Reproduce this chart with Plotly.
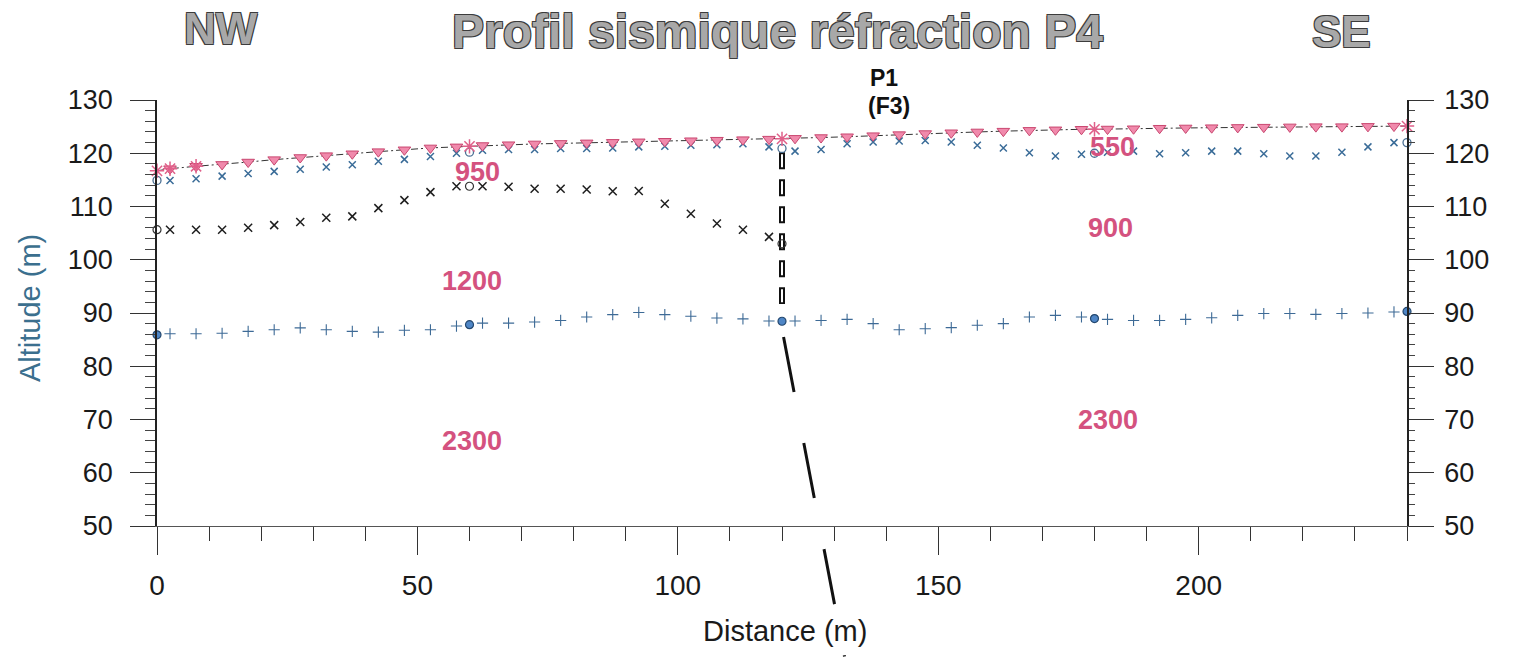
import plotly.graph_objects as go

# ---------------------------------------------------------------------------
# Survey geometry and picked refractor elevations (m)
# ---------------------------------------------------------------------------
GEO_X = [2.5, 7.5, 12.5, 17.5, 22.5, 27.5, 32.5, 37.5, 42.5, 47.5, 52.5, 57.5,
         62.5, 67.5, 72.5, 77.5, 82.5, 87.5, 92.5, 97.5, 102.5, 107.5, 112.5, 117.5,
         122.5, 127.5, 132.5, 137.5, 142.5, 147.5, 152.5, 157.5, 162.5, 167.5, 172.5, 177.5,
         182.5, 187.5, 192.5, 197.5, 202.5, 207.5, 212.5, 217.5, 222.5, 227.5, 232.5, 237.5]

# ground elevation at each geophone
TOPO_Z = [117.1, 117.55, 117.9, 118.35, 118.8, 119.2, 119.55, 119.9, 120.3, 120.65, 121.0, 121.2,
          121.45, 121.6, 121.75, 121.85, 121.95, 122.05, 122.15, 122.25, 122.35, 122.45, 122.55, 122.65,
          122.8, 122.95, 123.1, 123.3, 123.5, 123.7, 123.85, 124.0, 124.15, 124.3, 124.4, 124.5,
          124.55, 124.6, 124.7, 124.75, 124.8, 124.85, 124.9, 124.95, 125.0, 125.0, 125.05, 125.1]

# shot points and their ground elevation
SHOT_X = [0, 2.5, 7.5, 60, 120, 180, 240]
SHOT_Z = [116.7, 117.1, 117.55, 121.3, 122.7, 124.5, 125.1]

# base of the 550 m/s layer
REF1_Z = [114.9, 115.2, 115.7, 116.2, 116.6, 117.0, 117.4, 117.85, 118.5, 118.85, 119.4, 120.0,
          120.55, 120.7, 120.7, 120.9, 120.9, 121.0, 121.2, 121.3, 121.5, 121.6, 121.8, 121.2,
          120.4, 120.7, 121.8, 122.1, 122.3, 122.4, 122.1, 121.5, 121.0, 120.1, 119.5, 119.8,
          120.2, 120.4, 119.9, 120.1, 120.4, 120.4, 119.9, 119.5, 119.5, 120.2, 121.2, 122.0]
REF1_SHOT_X = [0, 60, 120, 180, 240]
REF1_SHOT_Z = [114.9, 120.2, 120.9, 120.0, 122.0]

# base of the 950 m/s layer (NW block only)
REF2_X = [2.5, 7.5, 12.5, 17.5, 22.5, 27.5, 32.5, 37.5, 42.5, 47.5, 52.5, 57.5,
          62.5, 67.5, 72.5, 77.5, 82.5, 87.5, 92.5, 97.5, 102.5, 107.5, 112.5, 117.5]
REF2_Z = [105.65, 105.65, 105.65, 106.0, 106.5, 107.1, 107.9, 108.15, 109.7, 111.2, 112.7, 113.8,
          113.8, 113.7, 113.35, 113.35, 113.2, 112.85, 112.9, 110.5, 108.65, 106.8, 105.65, 104.3]
REF2_SHOT_X = [0, 60, 120]
REF2_SHOT_Z = [105.65, 113.8, 103.0]

# top of the 2300 m/s bedrock
REF3_Z = [86.1, 86.1, 86.2, 86.55, 86.85, 87.2, 86.85, 86.55, 86.4, 86.75, 86.85, 87.55,
          88.1, 88.1, 88.3, 88.6, 89.25, 89.7, 90.1, 89.7, 89.4, 89.05, 88.9, 88.5,
          88.5, 88.6, 88.8, 88.0, 86.85, 87.05, 87.25, 87.7, 88.0, 89.25, 89.55, 89.25,
          88.8, 88.6, 88.6, 88.8, 89.1, 89.55, 89.9, 89.9, 89.75, 89.9, 90.0, 90.2]
REF3_SHOT_X = [0, 60, 120, 180, 240]
REF3_SHOT_Z = [85.9, 87.8, 88.45, 88.95, 90.3]

# borehole P1 (dashed, vertical) and fault F3 (dashed, inclined)
BORE_X = [120, 120]
BORE_Z = [120.2, 91.7]
FAULT_X = [120.3, 132.0]
FAULT_Z = [85.5, 25.5]

# seismic velocities (m/s) written in each layer
VEL_TEXT = ["950", "1200", "2300", "550", "900", "2300"]
VEL_X = [61.5, 60.5, 60.5, 183.5, 183.0, 182.5]
VEL_Z = [116.5, 96.0, 66.0, 121.2, 106.0, 70.0]

X_RANGE = [0, 240]
Z_RANGE = [50, 130]

# ---------------------------------------------------------------------------
# Page layout
# ---------------------------------------------------------------------------
W, H = 1529, 657
ML, MR, MT, MB = 157, 122, 100, 0
AXIS_BOTTOM_PX = 526                      # pixel row of the x axis
plot_h = H - MT - MB
dom_lo = (H - MB - AXIS_BOTTOM_PX) / plot_h
# full-height helper axis with the same vertical scale, so the fault can run
# below the x axis
z_full_lo = Z_RANGE[1] - (Z_RANGE[1] - Z_RANGE[0]) / (1 - dom_lo)


def px_x(px):
    return (px - ML) / (W - ML - MR)


def px_y(py):
    return (H - MB - py) / plot_h


FONT = "Liberation Sans, Arial, Helvetica, sans-serif"
PINK = "#d4527f"
BLUE_X = "#3a6c98"
BLUE_PLUS = "#3d6a96"
BLACK = "#1e1e1e"

# merge shots and geophones for the ground profile line
ground = sorted(set(zip(GEO_X, TOPO_Z)) | set(zip(SHOT_X, SHOT_Z)))
GROUND_X = [p[0] for p in ground]
GROUND_Z = [p[1] for p in ground]

fig = go.Figure()

# ground surface
fig.add_trace(go.Scatter(
    x=GROUND_X, y=GROUND_Z, mode="lines",
    line=dict(color="#333333", width=1, dash="7px,3px,2px,3px"),
    hoverinfo="skip"))

# borehole P1: hollow thick dashes (black outline, white core)
fig.add_trace(go.Scatter(
    x=BORE_X, y=BORE_Z, mode="lines",
    line=dict(color="#111111", width=6, dash="17px,10px"), hoverinfo="skip"))
fig.add_trace(go.Scatter(
    x=BORE_X, y=[BORE_Z[0] - 0.4, BORE_Z[1]], mode="lines",
    line=dict(color="#ffffff", width=2, dash="13px,14px"), hoverinfo="skip"))

# refractor picks
fig.add_trace(go.Scatter(
    x=GEO_X, y=REF3_Z, mode="markers",
    marker=dict(symbol="cross-thin-open", size=8, color=BLUE_PLUS,
                line=dict(color=BLUE_PLUS, width=1.1)), hoverinfo="skip"))
fig.add_trace(go.Scatter(
    x=REF3_SHOT_X, y=REF3_SHOT_Z, mode="markers", cliponaxis=False,
    marker=dict(symbol="circle", size=8, color="#4f86c6",
                line=dict(color="#24486f", width=1.2)), hoverinfo="skip"))

fig.add_trace(go.Scatter(
    x=REF2_X, y=REF2_Z, mode="markers",
    marker=dict(symbol="x-thin-open", size=8, color=BLACK,
                line=dict(color=BLACK, width=1.5)), hoverinfo="skip"))
fig.add_trace(go.Scatter(
    x=REF2_SHOT_X, y=REF2_SHOT_Z, mode="markers", cliponaxis=False,
    marker=dict(symbol="circle-open", size=8, color="#333333",
                line=dict(color="#333333", width=1.2)), hoverinfo="skip"))

fig.add_trace(go.Scatter(
    x=GEO_X, y=REF1_Z, mode="markers",
    marker=dict(symbol="x-thin-open", size=7, color=BLUE_X,
                line=dict(color=BLUE_X, width=1.5)), hoverinfo="skip"))
fig.add_trace(go.Scatter(
    x=REF1_SHOT_X, y=REF1_SHOT_Z, mode="markers", cliponaxis=False,
    marker=dict(symbol="circle-open", size=8, color="#4a6f93",
                line=dict(color="#4a6f93", width=1.3)), hoverinfo="skip"))

# geophones and shots on the ground line
fig.add_trace(go.Scatter(
    x=GEO_X, y=TOPO_Z, mode="markers",
    marker=dict(symbol="triangle-down", size=11, color="#f08aac",
                line=dict(color="#c9466f", width=1)), hoverinfo="skip"))
fig.add_trace(go.Scatter(
    x=SHOT_X, y=SHOT_Z, mode="markers", cliponaxis=False,
    marker=dict(symbol="asterisk-open", size=12, color="#e0608a",
                line=dict(color="#e0608a", width=1.5)), hoverinfo="skip"))

# fault F3 continuing below the section
fig.add_trace(go.Scatter(
    x=FAULT_X, y=FAULT_Z, mode="lines", yaxis="y3",
    line=dict(color="#111111", width=3, dash="56px,52px"), hoverinfo="skip"))

annotations = []
for t, x, z in zip(VEL_TEXT, VEL_X, VEL_Z):
    annotations.append(dict(
        x=x, y=z, xref="x", yref="y", text=t, showarrow=False,
        xanchor="center", yanchor="middle",
        font=dict(family=FONT, size=27, color=PINK, weight=700)))

outline = ("-1px -1px 0 #3c3c3c, 1px -1px 0 #3c3c3c, "
           "-1px 1px 0 #3c3c3c, 1px 1px 0 #3c3c3c")
head_font = dict(family=FONT, size=44, color="#a8a8a8", weight=700, shadow=outline)


def label(px, py, text, font, **kw):
    return dict(x=px_x(px), y=px_y(py), xref="paper", yref="paper", text=text,
                showarrow=False, xanchor="center", yanchor="middle",
                font=font, **kw)


annotations += [
    label(221, 28, "NW", head_font),
    label(777, 32, "Profil sismique réfraction P4", dict(head_font, size=48)),
    label(1341, 32, "SE", head_font),
    label(884, 78, "P1", dict(family=FONT, size=23, color="#111", weight=700)),
    label(889, 106, "(F3)", dict(family=FONT, size=23, color="#111", weight=700)),
    label(30, 308, "Altitude (m)", dict(family=FONT, size=29, color="#3b6f8e"),
          textangle=-90),
    label(785, 631, "Distance (m)", dict(family=FONT, size=29, color="#1a1a1a")),
]

tick_font = dict(family=FONT, size=27, color="#1a1a1a")

fig.update_layout(
    width=W, height=H, autosize=False,
    margin=dict(l=ML, r=MR, t=MT, b=MB, pad=0, autoexpand=False),
    paper_bgcolor="white", plot_bgcolor="rgba(0,0,0,0)",
    showlegend=False,
    annotations=annotations,
    xaxis=dict(
        range=X_RANGE, domain=[0, 1], anchor="y", automargin=False,
        showline=True, linecolor="#555555", linewidth=1,
        ticks="outside", ticklen=28, tickwidth=1.3, tickcolor="#333333",
        tick0=0, dtick=50, tickfont=dict(tick_font, size=28), ticklabelstandoff=6,
        minor=dict(dtick=10, ticks="outside", ticklen=14, tickwidth=1.2,
                   tickcolor="#333333"),
        showgrid=False, zeroline=False, fixedrange=True),
    yaxis=dict(
        range=Z_RANGE, domain=[dom_lo, 1], anchor="x", automargin=False,
        showline=True, linecolor="#222222", linewidth=1.5,
        ticks="outside", ticklen=25, tickwidth=1.2, tickcolor="#333333",
        tick0=50, dtick=10, tickfont=tick_font, ticklabelstandoff=12,
        minor=dict(dtick=2, ticks="outside", ticklen=10, tickwidth=1,
                   tickcolor="#444444"),
        showgrid=False, zeroline=False, fixedrange=True),
    yaxis2=dict(
        range=Z_RANGE, overlaying="y", side="right", anchor="x", automargin=False,
        showline=True, linecolor="#222222", linewidth=1.5,
        ticks="outside", ticklen=25, tickwidth=1.2, tickcolor="#333333",
        tick0=50, dtick=10, tickfont=tick_font, ticklabelstandoff=5,
        minor=dict(dtick=2, ticks="outside", ticklen=6, tickwidth=1,
                   tickcolor="#444444"),
        showgrid=False, zeroline=False, fixedrange=True),
    yaxis3=dict(
        range=[z_full_lo, Z_RANGE[1]], domain=[0, 1], anchor="x",
        automargin=False, visible=False, fixedrange=True),
)

# keep the right-hand axis drawn even without traces of its own
fig.add_trace(go.Scatter(x=[None], y=[None], yaxis="y2", hoverinfo="skip"))

fig.write_html("out.html")
